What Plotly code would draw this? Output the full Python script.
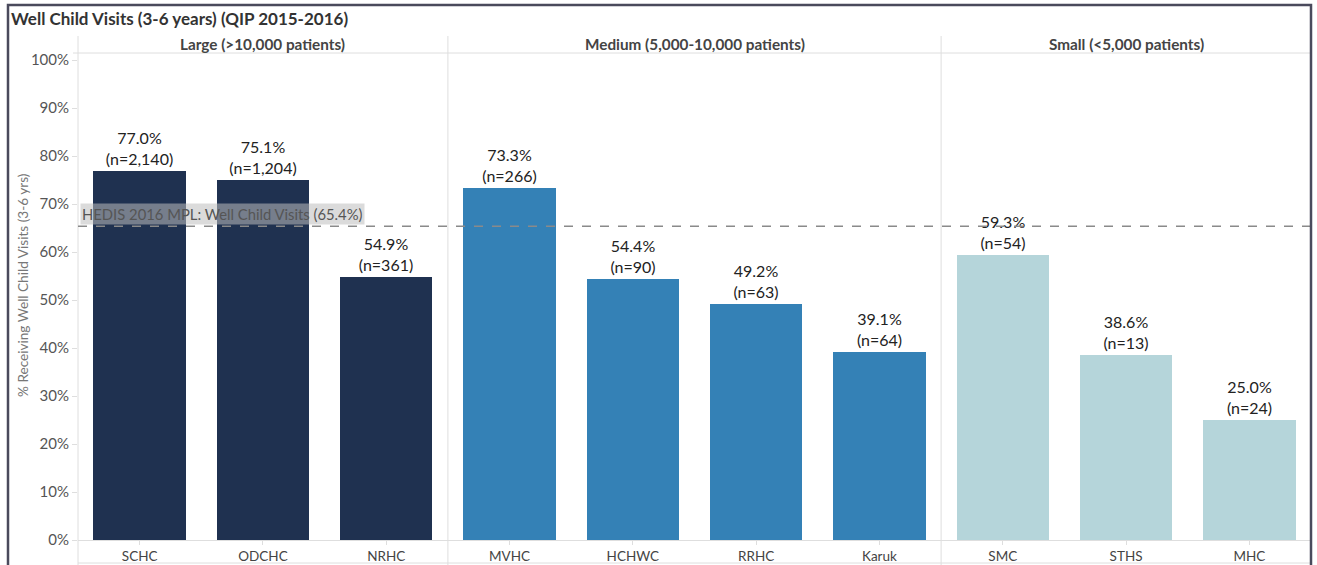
import plotly.graph_objects as go

# Data
categories = ["SCHC", "ODCHC", "NRHC", "MVHC", "HCHWC", "RRHC", "Karuk", "SMC", "STHS", "MHC"]
groups = ["Large", "Large", "Large", "Medium", "Medium", "Medium", "Medium", "Small", "Small", "Small"]
pct_values = [77.0, 75.1, 54.9, 73.3, 54.4, 49.2, 39.1, 59.3, 38.6, 25.0]
n_values = ["2,140", "1,204", "361", "266", "90", "63", "64", "54", "13", "24"]
group_headers = ["Large (>10,000 patients)", "Medium (5,000-10,000 patients)", "Small (<5,000 patients)"]
group_order = ["Large", "Medium", "Small"]
hedis_value = 65.4
hedis_label = "HEDIS 2016 MPL: Well Child Visits (65.4%)"
y_title = "% Receiving Well Child Visits (3-6 yrs)"

group_colors = {"Large": "#1f3150", "Medium": "#3481b6", "Small": "#b5d5da"}
FONT = "Lato"

W, H = 1317, 565
ML, MR, MT, MB = 78, 6, 53, 25
PW, PH = W - ML - MR, H - MT - MB


def px_x(p):
    return (p - ML) / PW


def px_y(p):
    return (H - MB - p) / PH


fig = go.Figure()
fig.add_trace(go.Bar(
    x=list(range(len(categories))),
    y=pct_values,
    width=0.75,
    marker=dict(color=[group_colors[g] for g in groups], line=dict(width=0)),
    text=[f"{v:.1f}%<br>(n={n})" for v, n in zip(pct_values, n_values)],
    textposition="outside",
    textfont=dict(family=FONT, size=16, color="#222"),
    cliponaxis=False,
    hoverinfo="skip",
))

shapes = []
bounds = []
start = 0
for g in group_order:
    cnt = groups.count(g)
    bounds.append((start - 0.5, start + cnt - 0.5))
    start += cnt
for lo, hi in bounds[1:]:
    shapes.append(dict(type="line", xref="x", yref="paper", x0=lo, x1=lo,
                       y0=px_y(570), y1=px_y(36), line=dict(color="#dedede", width=1)))
shapes.append(dict(type="line", xref="paper", yref="paper", x0=0, x1=0,
                   y0=px_y(570), y1=px_y(36), line=dict(color="#dedede", width=1)))
shapes.append(dict(type="line", xref="paper", yref="paper", x0=px_x(73), x1=1,
                   y0=px_y(53), y1=px_y(53), line=dict(color="#dedede", width=1)))
shapes.append(dict(type="line", xref="paper", yref="paper", x0=0, x1=1,
                   y0=px_y(563), y1=px_y(563), line=dict(color="#dedede", width=1)))
shapes.append(dict(type="line", xref="paper", yref="y", x0=0, x1=1,
                   y0=hedis_value, y1=hedis_value, line=dict(color="#8a8a8a", width=1.5, dash="dash")))
shapes.append(dict(type="rect", xref="paper", yref="paper", x0=px_x(8), x1=px_x(1311),
                   y0=px_y(590), y1=px_y(5), line=dict(color="#4a4a5c", width=2.5),
                   fillcolor="rgba(0,0,0,0)", layer="above"))

annotations = []
for (lo, hi), txt in zip(bounds, group_headers):
    annotations.append(dict(x=(lo + hi) / 2, y=px_y(44), xref="x", yref="paper", yanchor="middle",
                            text=f"<b>{txt}</b>", showarrow=False,
                            font=dict(family=FONT, size=15.3, color="#444")))
annotations.append(dict(x=px_x(9), y=px_y(19), xref="paper", yref="paper", xanchor="left",
                        yanchor="middle",
                        text="<b>Well Child Visits (3-6 years) (QIP 2015-2016)</b>", showarrow=False,
                        font=dict(family=FONT, size=17, color="#333")))
annotations.append(dict(x=px_x(80), y=hedis_value, xref="paper", yref="y", xanchor="left",
                        yanchor="bottom", yshift=1,
                        text=hedis_label, showarrow=False, bgcolor="rgba(190,190,190,0.55)",
                        borderpad=1,
                        font=dict(family=FONT, size=14.8, color="#555")))
annotations.append(dict(x=px_x(23), y=px_y(285), xref="paper", yref="paper", xanchor="center",
                        yanchor="middle", textangle=-90,
                        text=y_title, showarrow=False,
                        font=dict(family=FONT, size=13.6, color="#777")))

fig.update_layout(
    width=W, height=H,
    margin=dict(l=ML, r=MR, t=MT, b=MB, autoexpand=False),
    paper_bgcolor="white", plot_bgcolor="white",
    showlegend=False, bargap=0,
    shapes=shapes, annotations=annotations,
    font=dict(family=FONT),
    xaxis=dict(
        tickmode="array", tickvals=list(range(len(categories))), ticktext=categories,
        range=[-0.5, len(categories) - 0.5], automargin=False,
        showgrid=False, zeroline=False, showline=True, linecolor="#dedede",
        ticks="outside", tickson="boundaries", ticklen=4, tickcolor="#dedede",
        tickfont=dict(family=FONT, size=13.5, color="#444"),
    ),
    yaxis=dict(
        range=[0, 101.5], dtick=10, ticksuffix="%", automargin=False,
        showgrid=False, zeroline=False, showline=False,
        ticks="outside", ticklen=5, tickcolor="#dedede",
        tickfont=dict(family=FONT, size=15, color="#555"),
    ),
)

fig.write_html("out.html", config={"displayModeBar": False},
               post_script="document.body.style.margin='0';")
